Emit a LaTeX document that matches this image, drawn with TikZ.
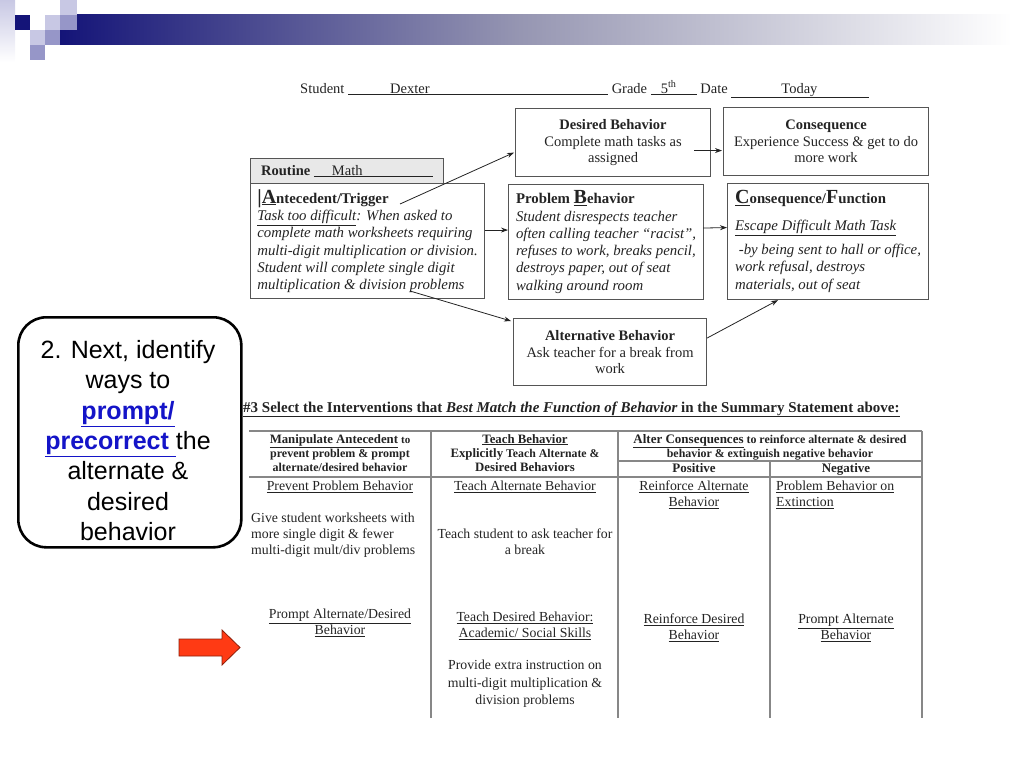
\documentclass[tikz,border=0pt]{standalone}
\usepackage{fontspec}
\setmainfont{Liberation Serif}
\newfontfamily\calloutfont{Liberation Sans}
\usepackage{tikz}
\usetikzlibrary{arrows.meta,calc}

\definecolor{ink}{RGB}{35, 35, 35}
\definecolor{boxline}{RGB}{85, 85, 85}
\definecolor{tablerule}{RGB}{135, 135, 135}
\definecolor{routinefill}{RGB}{232, 232, 232}
\definecolor{linkblue}{RGB}{20, 20, 200}
\definecolor{arrowred}{RGB}{255, 58, 20}
\definecolor{arrowedge}{RGB}{140, 30, 10}
\definecolor{navy}{RGB}{20, 20, 120}
\definecolor{bandgray}{RGB}{150, 150, 178}
\definecolor{lavender}{RGB}{200, 200, 228}
\definecolor{midblue}{RGB}{150, 150, 200}

\tikzset{
  fbabox/.style = {
    draw       = boxline,
    line width = 1.1pt,
    fill       = white,
    text       = ink,
    inner sep  = 0pt,
    font       = \fontsize{14.5}{16.5}\selectfont
  },
  fbaitalic/.style = {
    fbabox,
    align = left,
    font  = \itshape\fontsize{14.8}{17.3}\selectfont
  },
  connector/.style = {
    -{Stealth[length=7pt, width=5pt]},
    draw       = ink,
    line width = 0.8pt
  },
  tabrule/.style = {draw = tablerule, line width = 1.3pt},
  tabhead/.style = {
    text      = ink,
    inner sep = 0pt,
    align     = center,
    anchor    = north,
    font      = \bfseries\fontsize{12}{14}\selectfont
  },
  tabcell/.style = {
    text      = ink,
    inner sep = 0pt,
    align     = center,
    anchor    = north,
    font      = \fontsize{13.8}{16}\selectfont
  }
}

\begin{document}
\begin{tikzpicture}[x=1pt, y=-1pt]
  \useasboundingbox (0,0) rectangle (1024,768);

  % slide corner
  \shade[top color=lavender, bottom color=white] (0,0) rectangle (15,62);
  \shade[left color=navy, right color=bandgray] (60,15) rectangle (520,45);
  \shade[left color=bandgray, right color=white] (520,15) rectangle (1012,45);
  \fill[lavender] (60,0) rectangle (77,15);
  \fill[navy] (15,15) rectangle (30,30);
  \fill[lavender] (45,15) rectangle (60,30);
  \fill[midblue] (60,15) rectangle (77,30);
  \fill[lavender] (30,30) rectangle (45,45);
  \fill[midblue] (45,30) rectangle (60,45);
  \fill[midblue] (30,45) rectangle (45,60);

  % summary statement
  \node[anchor=base west, inner sep=0pt, text=ink, font=\fontsize{14.5}{16}\selectfont] (header) at (300,93)
    {Student \underline{\hbox to 260pt{\hspace{42pt}Dexter\hfill}} Grade \underline{\hbox to 46pt{\hspace{10pt}5\textsuperscript{th}\hfill}} Date \underline{\hbox to 138pt{\hspace{50pt}Today\hfill}}};

  \node[fbabox, anchor=north west, minimum width=195pt, minimum height=68pt, align=center] (desired) at (515,108)
    {\textbf{Desired Behavior}\\Complete math tasks as\\assigned};
  \node[fbabox, anchor=north west, minimum width=205pt, minimum height=68pt, align=center] (conseq) at (723,107)
    {\textbf{Consequence}\\Experience Success \& get to do\\more work};

  \node[fbabox, fill=routinefill, anchor=north west, minimum width=193pt, minimum height=25pt] (routine) at (250,158)
    {\textbf{Routine} \underline{\hbox to 119pt{\hspace{18pt}Math\hfill}}};

  \node[fbaitalic, anchor=north west, minimum width=234pt, minimum height=115pt] (trig) at (250,183)
    {{\upshape\bfseries{\fontsize{20}{20}\selectfont\textbar}\underline{\fontsize{20}{20}\selectfont A}ntecedent/Trigger}\\
     \underline{Task too difficult}: When asked to\\
     complete math worksheets requiring\\
     multi-digit multiplication or division.\\
     Student will complete single digit\\
     multiplication \& division problems};

  \node[fbaitalic, anchor=north west, minimum width=195pt, minimum height=115pt] (prob) at (508,184)
    {{\upshape\bfseries Problem \underline{\fontsize{20}{20}\selectfont B}ehavior}\\
     Student disrespects teacher\\
     often calling teacher “racist”,\\
     refuses to work, breaks pencil,\\
     destroys paper, out of seat\\
     walking around room};

  \node[fbaitalic, anchor=north west, minimum width=201pt, minimum height=116pt] (func) at (727,183)
    {{\upshape\bfseries\underline{\fontsize{20}{20}\selectfont C}onsequence/{\fontsize{20}{20}\selectfont F}unction}\\[9pt]
     \underline{Escape Difficult Math Task}\\[7pt]
     \ -by being sent to hall or office,\\
     work refusal, destroys\\
     materials, out of seat};

  \node[fbabox, anchor=north west, minimum width=193pt, minimum height=67pt, align=center] (alt) at (513,318)
    {\textbf{Alternative Behavior}\\Ask teacher for a break from\\work};

  \coordinate (trigGo) at (400,204);
  \coordinate (trigLow) at (410,291);
  \draw[connector] (trigGo) -- ($(desired.west)+(-1,10)$);
  \draw[connector] ($(desired.east)+(-17,8)$) -- ($(conseq.west)+(-1,9)$);
  \draw[connector] ($(trig.east)+(0,-11)$) -- ($(prob.west)+(0,-12)$);
  \draw[connector] ($(prob.east)+(-1,-14)$) -- ($(func.west)+(0,-14)$);
  \draw[connector] (trigLow) -- ($(alt.north west)+(-2,3)$);
  \draw[connector] ($(alt.east)+(0,-14)$) -- ($(func.south west)+(51,0)$);

  % interventions table
  \node[anchor=base west, inner sep=0pt, text=ink, font=\bfseries\fontsize{15}{17}\selectfont] (select) at (243,412)
    {\underline{\#3 Select the Interventions that \textit{Best Match the Function of Behavior} in the Summary Statement above:}};

  \draw[tabrule] (249,431) -- (922,431);
  \draw[tabrule] (618,461) -- (922,461);
  \draw[tabrule] (249,477) -- (922,477);
  \draw[tabrule] (431,431) -- (431,718);
  \draw[tabrule] (618,431) -- (618,718);
  \draw[tabrule] (770,461) -- (770,718);
  \draw[tabrule] (922,431) -- (922,718);

  \node[tabhead] (manip) at (340,434)
    {\underline{\fontsize{12.8}{14}\selectfont Manipulate Antecedent} {\fontsize{11}{12}\selectfont to}\\prevent problem \& prompt\\alternate/desired behavior};
  \node[tabhead] (teachBeh) at (525,434)
    {\underline{\fontsize{12.8}{14}\selectfont Teach Behavior}\\{\fontsize{12.8}{14}\selectfont Explicitly} {\fontsize{11.8}{12}\selectfont Teach Alternate \&}\\{\fontsize{12.8}{14}\selectfont Desired Behaviors}};
  \node[tabhead] (alterCons) at (770,434)
    {\underline{\fontsize{13}{14}\selectfont Alter Consequences} {\fontsize{11.9}{12}\selectfont to reinforce alternate \& desired}\\{\fontsize{11.9}{12}\selectfont behavior \& extinguish negative behavior}};
  \node[tabhead, font=\bfseries\fontsize{13}{14}\selectfont] (positive) at (694,463) {Positive};
  \node[tabhead, font=\bfseries\fontsize{13}{14}\selectfont] (negative) at (846,463) {Negative};

  \node[tabcell] (prevent) at (340,481) {\underline{Prevent Problem Behavior}};
  \node[tabcell, anchor=north west, align=left] (giveWs) at (251,513)
    {Give student worksheets with\\more single digit \& fewer\\multi-digit mult/div problems};
  \node[tabcell] (promptAD) at (340,609) {\underline{Prompt Alternate/Desired}\\\underline{Behavior}};

  \node[tabcell] (teachAlt) at (525,481) {\underline{Teach Alternate Behavior}};
  \node[tabcell] (askBreak) at (525,529) {Teach student to ask teacher for\\a break};
  \node[tabcell] (teachDes) at (525,612) {\underline{Teach Desired Behavior:}\\\underline{Academic/ Social Skills}};
  \node[tabcell, font=\fontsize{13.8}{17.5}\selectfont] (extraInstr) at (525,660)
    {Provide extra instruction on\\multi-digit multiplication \&\\division problems};

  \node[tabcell] (reinfAlt) at (694,481) {\underline{Reinforce Alternate}\\\underline{Behavior}};
  \node[tabcell] (reinfDes) at (694,614) {\underline{Reinforce Desired}\\\underline{Behavior}};

  \node[tabcell, anchor=north west, align=left] (extinct) at (776,481) {\underline{Problem Behavior on}\\\underline{Extinction}};
  \node[tabcell] (promptAlt) at (846,614) {\underline{Prompt Alternate}\\\underline{Behavior}};

  % step 2 callout
  \node[draw=black, fill=white, line width=2.6pt, rounded corners=28pt, anchor=north west,
        minimum width=223pt, minimum height=230pt] (callout) at (17,316) {};
  \node[anchor=north, inner sep=0pt, align=center, font=\calloutfont\fontsize{25}{30.4}\selectfont] (calloutText) at (128,340)
    {2. Next, identify\\ways to\\
     \textcolor{linkblue}{\bfseries\underline{prompt/}}\\
     \textcolor{linkblue}{\bfseries\underline{precorrect\ }}the\\
     alternate \&\\desired\\behavior};

  \filldraw[fill=arrowred, draw=arrowedge, line width=0.8pt]
    (179,639) -- (222,639) -- (222,630) -- (240,647.5) -- (222,665) -- (222,656) -- (179,656) -- cycle;
\end{tikzpicture}
\end{document}
